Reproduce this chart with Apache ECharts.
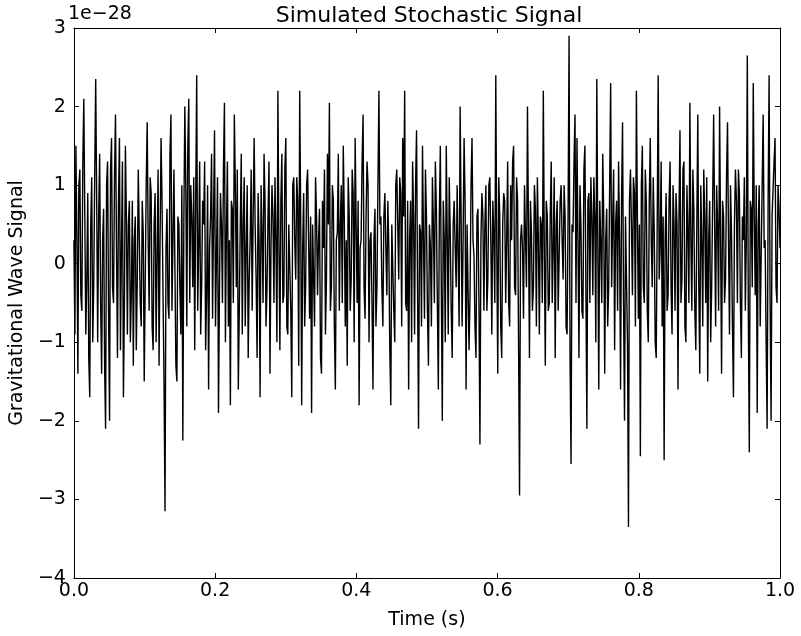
<!DOCTYPE html>
<html>
<head>
<meta charset="utf-8">
<script src="https://cdn.jsdelivr.net/npm/echarts@6/dist/echarts.min.js"></script>
<style>
html,body{margin:0;padding:0;background:#fff;}
#chart{width:801px;height:636px;}
</style>
</head>
<body>
<div id="chart"></div>
<script>
// Signal values in units of 1e-28 (left to right)
const signalA = [0.3,-0.9,1.5,0.4,-1.4,1.0,1.2,-0.4,-0.6,1.3,2.1,0.6,-0.9,-0.2,0.9,-1.2,-1.7,0.5,1.1,-1.0,-0.3,1.1,2.35,0.8,-1.0,0.6,1.4,-0.5,-1.4,0.3,0.7,-1.3,-2.1,1.0,1.3,-0.6,-2.0,1.2,1.6,-0.3,-0.5,1.1,1.9,0.2,-1.2,0.8,1.6,-1.1,0.2,1.3,-1.7,-0.5,1.5,0.6,-0.9,0.5,0.8,-1.0,-0.4,0.8];
const signalB = [-1.3,0.3,0.6,-1.1,-0.2,1.2,1.2,-0.5,-0.8,0.8,0.4,-1.5,-1.5,1.0,1.8,0.3,-0.6,1.1,0.9,-0.8,-1.1,0.5,0.9,-1.0,0.1,1.2,-1.3,0.3,1.6,0.8,-0.4,-1.5,-3.15,0.2,0.7,-0.5,-0.7,1.4,1.9,-0.6,0.3,1.2,1.2,-1.3,-1.5,0.6,0.5,-0.3,-0.9,1.0,-2.25,0.5,2.0,1.0,-0.8,1.5,2.1,-0.5,1.0,0.6];
const signalC = [-0.3,1.1,-1.1,0.8,2.4,-0.6,0.2,1.3,-0.9,-0.3,0.8,0.5,1.3,-1.1,-0.4,1.0,-1.6,0.2,0.6,1.4,-0.7,0.6,1.7,-0.8,0.1,1.1,-1.9,-0.3,0.9,0.5,-0.5,1.2,2.05,-1.0,0.4,1.3,-0.8,0.3,-1.8,0.8,0.7,-0.5,1.9,1.0,-0.3,1.2,-1.6,-0.6,0.5,1.4,-0.9,0.5,1.1,-0.8,0.2,1.0,-1.2,-0.2,0.3,1.2];
const signalD = [-0.6,0.6,1.6,0.5,-0.2,-1.2,0.9,0.3,-1.7,1.0,0.4,-0.5,1.4,0.8,-0.8,-0.3,0.6,1.3,-1.4,0.2,1.0,0.6,-0.5,1.1,0.3,-1.0,2.2,0.3,-1.1,0.8,1.4,-0.5,-0.4,1.2,1.6,-0.8,-0.9,0.5,0.5,-0.6,-1.7,1.0,1.1,0.3,-0.2,1.1,0.8,-1.3,2.2,0.6,-1.8,0.2,0.9,-0.8,-0.3,1.0,1.2,0.3,-0.7,0.6];
const signalE = [-1.9,0.5,0.5,-0.8,1.1,0.6,-0.4,0.3,0.7,-1.2,-1.4,0.8,0.2,1.2,-0.9,-0.2,1.4,0.5,2.05,-0.6,-0.3,1.0,0.8,-0.8,-1.6,0.3,0.4,1.4,-0.6,0.5,1.0,-0.5,1.5,0.6,-0.8,0.3,-1.3,1.1,0.6,-0.6,-0.2,1.2,0.9,-1.0,1.6,0.5,-0.5,0.8,-1.8,0.2,0.3,1.3,1.9,-0.3,-0.7,0.6,1.3,1.0,-1.0,0.3];
const signalF = [0.4,-0.5,-1.6,0.3,0.7,-0.8,-0.3,1.0,2.2,0.5,0.6,-0.3,-0.8,0.6,0.9,0.2,-0.4,0.8,0.2,-1.1,-1.8,0.5,0.5,-0.6,-1.0,1.0,1.2,0.5,-0.2,1.1,0.9,-0.8,1.6,0.6,2.2,-0.5,-0.6,0.8,-1.6,0.3,0.8,-1.0,1.3,0.6,-0.9,1.0,1.7,-0.3,-2.1,0.5,0.4,-0.8,1.5,0.3,-0.7,1.2,0.6,-0.6,-1.3,0.5];
const signalG = [0.2,-0.8,1.1,0.5,-0.5,1.3,0.7,-0.5,-1.6,0.6,1.5,-0.3,-2.0,0.8,0.3,-1.0,1.5,0.3,-0.9,1.1,0.4,-0.6,-1.2,0.5,0.8,0.2,-0.3,1.0,1.0,-0.8,2.0,0.6,-0.8,0.3,1.6,0.8,-1.6,0.5,0.5,-1.1,-0.4,1.0,1.6,0.3,0.1,-0.8,-1.2,0.6,0.7,-0.5,-2.3,0.3,0.9,0.6,-0.6,0.5,1.0,-0.6,-0.2,1.0];
const signalH = [1.1,0.3,-0.9,0.8,0.4,-0.5,2.4,0.2,-1.4,1.1,0.6,-0.8,-1.2,0.5,0.9,0.8,-0.5,0.3,1.3,-0.5,-0.8,1.0,0.3,1.3,1.5,-0.3,-0.4,1.1,0.8,-1.0,-2.95,0.3,0.5,0.2,-0.7,1.0,1.0,-0.3,2.0,0.5,-1.2,0.8,0.4,-0.6,-0.3,1.0,0.7,-0.8,1.1,0.3,-0.9,0.6,0.5,-0.5,2.2,0.2,-1.3,0.8,0.6,-0.6];
const signalI = [-0.5,0.6,1.3,-0.5,0.2,1.1,-1.2,0.5,0.8,-0.6,-0.6,0.8,1.0,0.3,-0.2,1.0,0.6,-0.8,-0.9,0.6,2.9,-1.2,-2.55,0.5,0.4,1.3,1.9,-0.5,1.6,0.3,-1.2,1.0,0.5,-0.6,-0.7,1.2,1.5,-0.3,-2.1,0.8,0.9,-0.5,1.1,0.6,-0.4,1.1,0.6,-1.0,2.35,0.3,-1.6,0.8,0.3,-0.5,1.4,0.6,-1.4,0.3,0.7,-0.8];
const signalJ = [-0.3,1.0,2.3,-0.3,0.5,1.2,-1.1,0.5,0.8,-0.6,1.3,0.3,-1.6,0.8,1.8,-0.5,-2.0,0.6,0.6,-1.0,-3.35,0.8,1.2,0.5,-0.4,1.1,0.9,-0.8,2.2,0.6,-0.7,0.5,-2.45,1.0,1.5,-0.3,-0.5,1.2,0.8,-0.6,-1.0,0.8,1.6,0.3,-0.3,1.1,0.4,-1.0,-1.2,0.5,2.4,-0.2,0.2,1.3,-0.8,0.6,-2.5,0.3,0.9,-0.6];
const signalK = [-0.4,0.8,1.3,-0.3,-0.9,1.0,0.5,-0.6,0.9,0.5,-1.6,0.6,1.7,-0.5,-0.2,1.2,1.3,-0.8,-1.0,1.0,0.4,-0.5,2.05,0.3,-0.6,1.2,0.7,-0.6,-1.1,0.5,1.9,-0.3,-1.4,1.0,0.3,-0.8,1.2,0.6,-0.5,1.1,-1.5,0.3,0.8,-1.0,-0.3,0.8,1.9,0.5,-0.8,1.0,0.5,-0.6,2.0,0.3,-1.4,0.8,0.6,-0.5,-0.2,1.1];
const signalL = [1.8,0.3,-0.9,1.0,0.4,-0.8,-1.7,0.5,1.2,0.8,-0.5,1.2,0.9,-0.5,-1.2,0.6,0.3,1.1,-0.6,0.3,2.65,-0.6,-2.4,0.8,0.7,-0.3,2.3,0.6,-0.4,1.0,-1.9,0.5,1.0,-0.8,-0.8,1.0,1.9,0.2,0.3,-1.0,-2.1,0.8,2.4,-0.5,-2.0,0.6,0.6,1.3,1.6,-0.3,-0.5,1.0,0.7,0.2];

const signal = [].concat(signalA,signalB,signalC,signalD,signalE,signalF,signalG,signalH,signalI,signalJ,signalK,signalL);
const duration = 1.0; // seconds
const xTicks = [0.0,0.2,0.4,0.6,0.8,1.0];
const yTicks = [-4,-3,-2,-1,0,1,2,3];
const offsetText = '1e\u221228';
const titleText = 'Simulated Stochastic Signal';
const xLabel = 'Time (s)';
const yLabel = 'Gravitational Wave Signal';

const n = signal.length;
const seriesData = signal.map((v,i)=>[duration*i/(n-1), v]);

const font = 'DejaVu Sans';
const chart = echarts.init(document.getElementById('chart'), null, {renderer:'canvas'});
const axisCommon = {
  axisLine:{show:true,onZero:false,lineStyle:{color:'#000',width:1}},
  axisTick:{show:true,inside:true,length:5,lineStyle:{color:'#000',width:1}},
  splitLine:{show:false}
};
const fmtY = v => String(v).replace('-', '\u2212');
chart.setOption({
  animation:false,
  backgroundColor:'#fff',
  title:{text:titleText,left:424,textAlign:'center',top:0,
    textStyle:{fontFamily:font,fontSize:22,fontWeight:'normal',color:'#000'}},
  grid:{left:68,top:28,width:712,height:550,containLabel:false},
  graphic:[{type:'text',left:68,top:5,style:{text:offsetText,font:'19px "DejaVu Sans"',fill:'#000'}}],
  xAxis:[
    Object.assign({type:'value',min:xTicks[0],max:xTicks[xTicks.length-1],interval:0.2,position:'bottom',
      name:xLabel,nameLocation:'middle',nameGap:33,
      nameTextStyle:{fontFamily:font,fontSize:19,color:'#000'},
      axisLabel:{fontFamily:font,fontSize:19,color:'#000',margin:4,formatter:v=>v.toFixed(1)}},axisCommon),
    Object.assign({type:'value',min:xTicks[0],max:xTicks[xTicks.length-1],interval:0.2,position:'top',
      axisLabel:{show:false}},axisCommon)
  ],
  yAxis:[
    Object.assign({type:'value',min:yTicks[0],max:yTicks[yTicks.length-1],interval:1,position:'left',
      name:yLabel,nameLocation:'middle',nameGap:42,
      nameTextStyle:{fontFamily:font,fontSize:19,color:'#000'},
      axisLabel:{fontFamily:font,fontSize:19,color:'#000',margin:8,formatter:fmtY}},axisCommon),
    Object.assign({type:'value',min:yTicks[0],max:yTicks[yTicks.length-1],interval:1,position:'right',
      axisLabel:{show:false}},axisCommon)
  ],
  series:[{type:'line',data:seriesData,xAxisIndex:0,yAxisIndex:0,showSymbol:false,symbol:'none',
    sampling:null,lineStyle:{color:'#000',width:1.4},silent:true}]
});
</script>
</body>
</html>
